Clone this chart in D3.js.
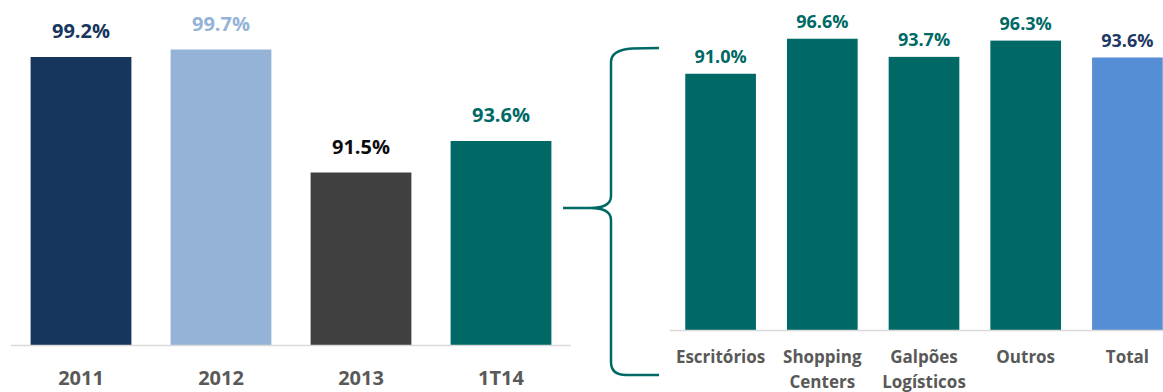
<!DOCTYPE html>
<html>
<head>
<meta charset="utf-8">
<script src="https://cdn.jsdelivr.net/npm/d3@7"></script>
<style>
  body { margin: 0; background: #fff; }
  svg text { font-family: "Open Sans", sans-serif; font-weight: bold; }
</style>
</head>
<body>
<svg id="chart" width="1163" height="392"></svg>
<script>
// left chart: yearly occupancy
const years = ["2011", "2012", "2013", "1T14"];
const yearValues = [99.2, 99.7, 91.5, 93.6];
const yearColors = ["#17365D", "#95B3D7", "#404040", "#006966"];
const yearLabelColors = ["#17365D", "#95B3D7", "#0D0D0D", "#006966"];

// right chart: 1T14 breakdown by segment
const segments = [["Escritórios"], ["Shopping", "Centers"], ["Galpões", "Logísticos"], ["Outros"], ["Total"]];
const segmentValues = [91.0, 96.6, 93.7, 96.3, 93.6];
const segmentColors = ["#006966", "#006966", "#006966", "#006966", "#558ED5"];
const segmentLabelColors = ["#006966", "#006966", "#006966", "#006966", "#1F3864"];

const fmt = (v) => v.toFixed(1) + "%";
const svg = d3.select("#chart");

// ---- left chart
const xL = d3.scaleBand().domain(years).range([11, 571]).paddingInner(0.28).paddingOuter(0.14);
const yL = d3.scaleLinear().domain([80, 100]).range([345, 45]);

const left = svg.append("g");
left.selectAll("rect")
  .data(years)
  .join("rect")
  .attr("x", (d) => xL(d))
  .attr("y", (d, i) => yL(yearValues[i]))
  .attr("width", xL.bandwidth())
  .attr("height", (d, i) => yL(80) - yL(yearValues[i]))
  .style("fill", (d, i) => yearColors[i]);

left.append("line")
  .attr("x1", 11).attr("x2", 571)
  .attr("y1", yL(80) + 0.5).attr("y2", yL(80) + 0.5)
  .style("stroke", "#D9D9D9").style("stroke-width", 1.5);

left.selectAll("text.val")
  .data(years)
  .join("text")
  .attr("class", "val")
  .attr("x", (d) => xL(d) + xL.bandwidth() / 2)
  .attr("y", (d, i) => yL(yearValues[i]) - 26)
  .attr("dy", "0.35em")
  .style("text-anchor", "middle")
  .style("font-size", "20px")
  .style("fill", (d, i) => yearLabelColors[i])
  .text((d, i) => fmt(yearValues[i]));

left.selectAll("text.cat")
  .data(years)
  .join("text")
  .attr("class", "cat")
  .attr("x", (d) => xL(d) + xL.bandwidth() / 2)
  .attr("y", 378)
  .attr("dy", "0.35em")
  .style("text-anchor", "middle")
  .style("font-size", "20px")
  .style("fill", "#595959")
  .text((d) => d);

// ---- right chart
const segKeys = segments.map((s) => s.join(" "));
const xR = d3.scaleBand().domain(segKeys).range([670, 1178]).paddingInner(0.305).paddingOuter(0.15);
const yR = d3.scaleLinear().domain([50, 100]).range([330, 17.5]);

const right = svg.append("g");
right.selectAll("rect")
  .data(segKeys)
  .join("rect")
  .attr("x", (d) => xR(d))
  .attr("y", (d, i) => yR(segmentValues[i]))
  .attr("width", xR.bandwidth())
  .attr("height", (d, i) => yR(50) - yR(segmentValues[i]))
  .style("fill", (d, i) => segmentColors[i]);

right.append("line")
  .attr("x1", 670).attr("x2", 1163)
  .attr("y1", yR(50) + 0.5).attr("y2", yR(50) + 0.5)
  .style("stroke", "#D9D9D9").style("stroke-width", 1.5);

right.selectAll("text.val")
  .data(segKeys)
  .join("text")
  .attr("class", "val")
  .attr("x", (d) => xR(d) + xR.bandwidth() / 2)
  .attr("y", (d, i) => yR(segmentValues[i]) - 17)
  .attr("dy", "0.35em")
  .style("text-anchor", "middle")
  .style("font-size", "18px")
  .style("fill", (d, i) => segmentLabelColors[i])
  .text((d, i) => fmt(segmentValues[i]));

const cats = right.selectAll("text.cat")
  .data(segments)
  .join("text")
  .attr("class", "cat")
  .attr("x", (d, i) => xR(segKeys[i]) + xR.bandwidth() / 2)
  .attr("y", 357)
  .style("text-anchor", "middle")
  .style("font-size", "17px")
  .style("fill", "#595959");
cats.selectAll("tspan")
  .data((d) => d)
  .join("tspan")
  .attr("x", function () { return d3.select(this.parentNode).attr("x"); })
  .attr("dy", (d, i) => (i === 0 ? "0.35em" : "25px"))
  .text((d) => d);

// ---- brace linking 1T14 to the breakdown
const bx = 611, tipX = 563, endX = 659, braceTop = 48, braceBottom = 375, braceMid = 208;
const p = d3.path();
p.moveTo(endX, braceTop);
p.lineTo(632, braceTop + 0.5);
p.quadraticCurveTo(bx, braceTop + 2, bx, braceTop + 14);
p.lineTo(bx, braceMid - 12);
p.quadraticCurveTo(bx, braceMid, 590, braceMid);
p.lineTo(tipX, braceMid);
p.moveTo(590, braceMid);
p.quadraticCurveTo(bx, braceMid, bx, braceMid + 12);
p.lineTo(bx, braceBottom - 13);
p.quadraticCurveTo(bx, braceBottom, 626, braceBottom);
p.lineTo(endX, braceBottom);
svg.append("path")
  .attr("d", p.toString())
  .style("fill", "none")
  .style("stroke", "#006966")
  .style("stroke-width", 2.5);
</script>
</body>
</html>
